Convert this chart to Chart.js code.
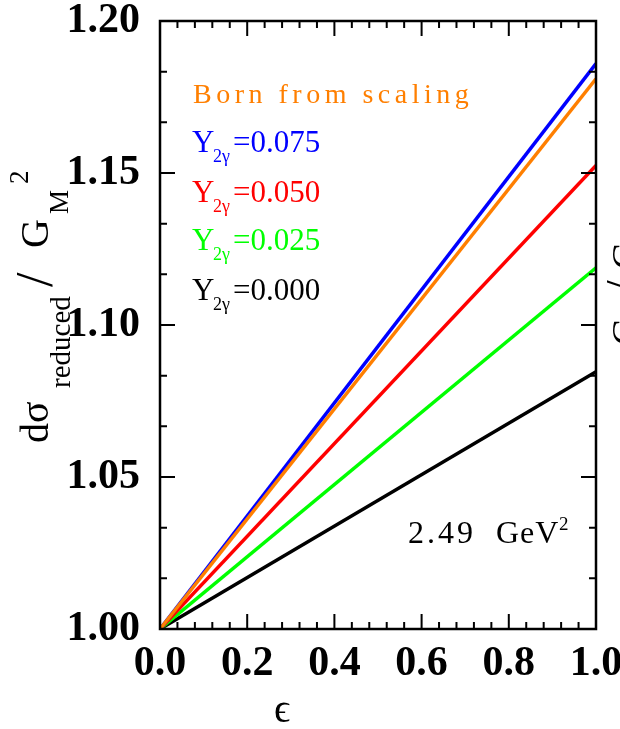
<!DOCTYPE html>
<html>
<head>
<meta charset="utf-8">
<script src="https://cdn.jsdelivr.net/npm/chart.js@4"></script>
<style>
  html, body { margin: 0; padding: 0; background: #fff; }
  canvas { display: block; }
</style>
</head>
<body>
<canvas id="myChart" width="620" height="729"></canvas>
<script>
// epsilon values at the ends of each straight line
var eps = [0, 1];
var born = [1.000, 1.181];
var y075 = [1.000, 1.186];
var y050 = [1.000, 1.1525];
var y025 = [1.000, 1.1188];
var y000 = [1.000, 1.0846];

var xTicks = [0.0, 0.2, 0.4, 0.6, 0.8, 1.0];
var yTicks = [1.00, 1.05, 1.10, 1.15, 1.20];
var xMinorStep = 0.04;
var yMinorStep = 0.05 / 3;

function pts(ys) {
  return eps.map(function (e, i) { return { x: e, y: ys[i] }; });
}

var serif = '"Liberation Serif", "DejaVu Serif", serif';

// draws the frame, the inward ticks and all text that chart.js can't do itself
var framePlugin = {
  id: 'frame',
  afterDraw: function (chart) {
    var c = chart.ctx;
    var a = chart.chartArea;
    var xs = chart.scales.x, ys = chart.scales.y;
    c.save();
    c.strokeStyle = '#000';
    c.lineWidth = 2.5;
    c.strokeRect(a.left, a.top, a.right - a.left, a.bottom - a.top);

    c.lineWidth = 2;
    c.beginPath();
    var v, p, len;
    for (var k = 0; k <= Math.round(1 / xMinorStep); k++) {
      v = k * xMinorStep;
      p = xs.getPixelForValue(v);
      len = (Math.abs(v * 5 - Math.round(v * 5)) < 1e-6) ? 15 : 7;
      c.moveTo(p, a.bottom); c.lineTo(p, a.bottom - len);
      c.moveTo(p, a.top); c.lineTo(p, a.top + len);
    }
    for (var j = 0; j <= 12; j++) {
      v = 1 + j * yMinorStep;
      p = ys.getPixelForValue(v);
      len = (j % 3 === 0) ? 15 : 7;
      c.moveTo(a.left, p); c.lineTo(a.left + len, p);
      c.moveTo(a.right, p); c.lineTo(a.right - len, p);
    }
    c.stroke();

    // in-plot labels
    c.textBaseline = 'alphabetic';
    c.textAlign = 'left';
    c.fillStyle = '#ff7f00';
    c.font = '28px ' + serif;
    c.letterSpacing = '4.5px';
    c.fillText('Born from scaling', 193, 103);
    c.letterSpacing = '0px';

    var rows = [
      ['#0000ff', '0.075', 152],
      ['#ff0000', '0.050', 202],
      ['#00ff00', '0.025', 250],
      ['#000000', '0.000', 300]
    ];
    rows.forEach(function (r) {
      c.fillStyle = r[0];
      c.font = '31px ' + serif;
      c.fillText('Y', 192, r[2]);
      c.font = '18px ' + serif;
      c.fillText('2γ', 213, r[2] + 10);
      c.font = '31px ' + serif;
      c.fillText('=' + r[1], 233, r[2]);
    });

    c.fillStyle = '#000';
    c.font = '32px ' + serif;
    c.letterSpacing = '3px';
    c.fillText('2.49', 408, 543);
    c.letterSpacing = '1px';
    c.fillText('GeV', 496, 543);
    c.letterSpacing = '0px';
    c.font = '19px ' + serif;
    c.fillText('2', 559, 530);

    // x title
    c.font = '40px ' + serif;
    c.textAlign = 'center';
    c.fillText('ϵ', 282, 722);

    // y title, rotated
    c.save();
    c.translate(48, 443);
    c.rotate(-Math.PI / 2);
    c.textAlign = 'left';
    c.font = '40px ' + serif;
    c.fillText('dσ', 0, 0);
    c.font = '29px ' + serif;
    c.fillText('reduced', 55, 22);
    c.font = '52px ' + serif;
    c.fillText('/', 156, 4);
    c.font = '40px ' + serif;
    c.fillText('G', 195, 0);
    c.font = '27px ' + serif;
    c.fillText('M', 229, 20);
    c.fillText('2', 259, -20);
    c.restore();

    // piece of the neighbouring panel's axis title at the right edge
    c.save();
    c.translate(638, 345);
    c.rotate(-Math.PI / 2);
    c.textAlign = 'left';
    c.font = '38px ' + serif;
    c.fillText('G', 0, 0);
    c.font = '46px ' + serif;
    c.fillText('/', 52, 0);
    c.font = '38px ' + serif;
    c.fillText('G', 76, 0);
    c.restore();

    c.restore();
  }
};

var ctx = document.getElementById('myChart');
var chart_params = {
  type: 'line',
  data: {
    datasets: [
      { label: 'Born from scaling', data: pts(born), borderColor: '#ff7f00', order: 0 },
      { label: 'Y2γ=0.075', data: pts(y075), borderColor: '#0000ff', order: 1 },
      { label: 'Y2γ=0.050', data: pts(y050), borderColor: '#ff0000', order: 2 },
      { label: 'Y2γ=0.025', data: pts(y025), borderColor: '#00ff00', order: 3 },
      { label: 'Y2γ=0.000', data: pts(y000), borderColor: '#000000', order: 4 }
    ]
  },
  options: {
    responsive: false,
    animation: false,
    devicePixelRatio: 1,
    layout: { padding: { top: 21, right: 24, left: 0, bottom: 0 } },
    elements: {
      line: { borderWidth: 3.5, tension: 0, fill: false },
      point: { radius: 0 }
    },
    plugins: {
      legend: { display: false },
      tooltip: { enabled: false }
    },
    scales: {
      x: {
        type: 'linear',
        min: 0,
        max: 1,
        afterBuildTicks: function (s) { s.ticks = xTicks.map(function (v) { return { value: v }; }); },
        afterFit: function (s) {
          s.height = 100;
          s.paddingLeft = 0;
          s.paddingRight = 0;
        },
        grid: { display: false, drawTicks: false },
        border: { display: false },
        ticks: {
          padding: 10,
          color: '#000',
          font: { family: serif, size: 42, weight: 'bold' },
          maxRotation: 0,
          callback: function (v) { return v.toFixed(1); }
        }
      },
      y: {
        type: 'linear',
        min: 1.0,
        max: 1.2,
        afterBuildTicks: function (s) { s.ticks = yTicks.map(function (v) { return { value: v }; }); },
        afterFit: function (s) {
          s.width = 160;
          s.paddingTop = 0;
          s.paddingBottom = 0;
        },
        grid: { display: false, drawTicks: false },
        border: { display: false },
        ticks: {
          padding: 20,
          color: '#000',
          font: { family: serif, size: 42, weight: 'bold' },
          callback: function (v) { return v.toFixed(2); }
        }
      }
    }
  },
  plugins: [framePlugin]
};
var myChart = new Chart(ctx, chart_params);
</script>
</body>
</html>
